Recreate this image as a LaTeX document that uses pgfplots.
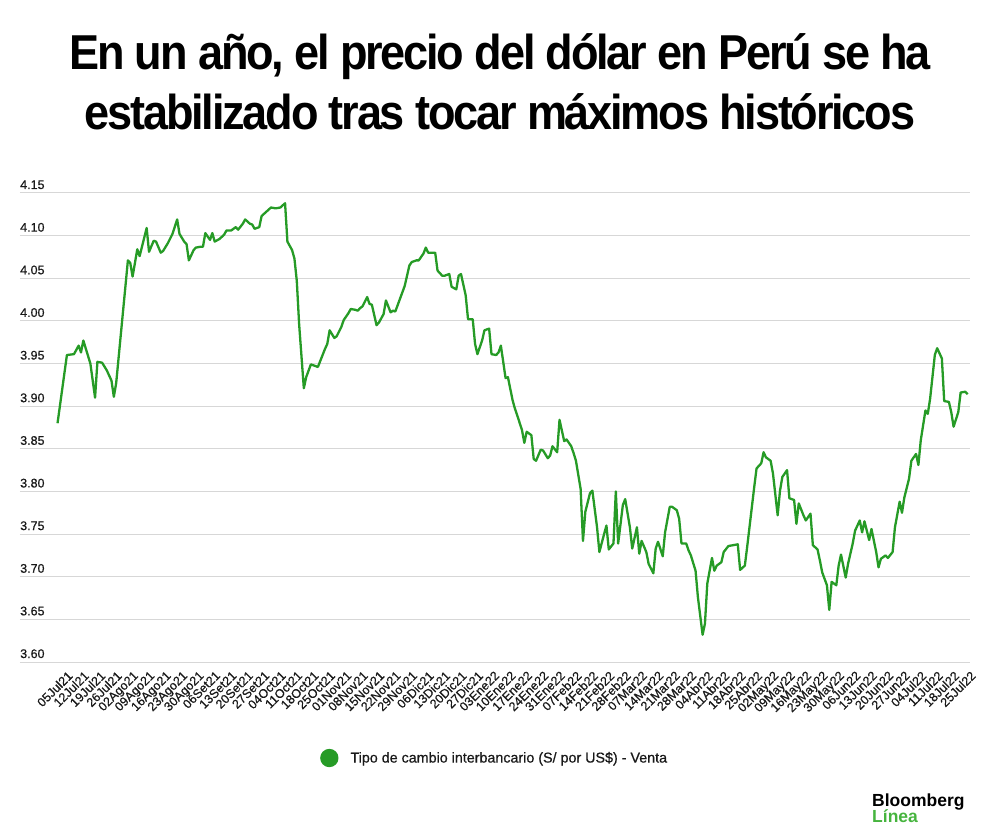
\documentclass[border=0pt]{standalone}
\usepackage{fontspec}
\setmainfont{Liberation Sans}
\newfontfamily\titlefont{Liberation Sans}[FakeStretch=0.92, LetterSpace=-4.5]
\newfontfamily\tickfont{Liberation Sans}[FakeBold=0.6]
\usepackage{pgfplots}
\pgfplotsset{compat=1.18}
\definecolor{lineg}{RGB}{38,155,38}
\definecolor{gridc}{RGB}{215,215,215}
\definecolor{tickc}{RGB}{25,25,25}
\definecolor{lineagreen}{RGB}{70,180,62}
\begin{document}
\begin{tikzpicture}[x=1pt,y=1pt]
\useasboundingbox (0,0) rectangle (1000,838);
\begin{axis}[
  at={(20pt,176pt)}, anchor=south west, scale only axis,
  width=950pt, height=469pt,
  xmin=-20, xmax=385, ymin=3.6, ymax=4.15,
  axis line style={draw=none},
  major tick length=0pt,
  ymajorgrids, grid style={gridc, line width=1pt},
  ytick={3.60,3.65,3.70,3.75,3.80,3.85,3.90,3.95,4.00,4.05,4.10,4.15},
  yticklabels={3.60,3.65,3.70,3.75,3.80,3.85,3.90,3.95,4.00,4.05,4.10,4.15},
  xtick={0,7,...,385},
  xticklabels={05Jul21,12Jul21,19Jul21,26Jul21,02Ago21,09Ago21,16Ago21,23Ago21,30Ago21,06Set21,13Set21,20Set21,27Set21,04Oct21,11Oct21,18Oct21,25Oct21,01Nov21,08Nov21,15Nov21,22Nov21,29Nov21,06Dic21,13Dic21,20Dic21,27Dic21,03Ene22,10Ene22,17Ene22,24Ene22,31Ene22,07Feb22,14Feb22,21Feb22,28Feb22,07Mar22,14Mar22,21Mar22,28Mar22,04Abr22,11Abr22,18Abr22,25Abr22,02May22,09May22,16May22,23May22,30May22,06Jun22,13Jun22,20Jun22,27Jun22,04Jul22,11Jul22,18Jul22,25Jul22},
  /pgf/number format/assume math mode=true,
  tick label style={font=\tickfont\fontsize{12.5}{12.5}\selectfont, text=tickc},
  yticklabel style={anchor=base west, inner sep=0pt, yshift=4pt},
  xticklabel style={anchor=north east, inner sep=0pt, rotate=45},
  xticklabel shift=8pt,
  legend style={at={(axis description cs:0.3158,-0.2047)}, anchor=west,
    draw=none, fill=none, inner sep=0pt, column sep=12pt,
    font=\tickfont\fontsize{14.3}{14.3}\selectfont, text=tickc,
    nodes={inner sep=0pt}},
  legend image code/.code={\fill[lineg] (8pt,0pt) circle (8pt);},
]
\addplot[color=lineg, line width=2.3pt, line join=round] coordinates {
(-4,3.880) (0,3.960) (3,3.961) (5,3.971) (6,3.963) (7,3.977) (10,3.950) (12,3.910)
(13,3.952) (15,3.951) (17,3.942) (19,3.930) (20,3.911) (21,3.927) (26,4.071) (27,4.068)
(28,4.052) (30,4.084) (31,4.076) (33,4.098) (34,4.109) (35,4.081) (37,4.094) (38,4.093)
(40,4.080) (41,4.082) (43,4.091) (45,4.102) (47,4.119) (48,4.102) (50,4.093) (51,4.090)
(52,4.071) (54,4.083) (55,4.086) (57,4.087) (58,4.087) (59,4.103) (61,4.095) (62,4.103)
(63,4.093) (65,4.096) (67,4.101) (68,4.106) (70,4.106) (72,4.110) (73,4.107) (75,4.114)
(76,4.119) (78,4.114) (79,4.113) (80,4.108) (82,4.110) (83,4.123) (85,4.128) (87,4.133)
(89,4.132) (91,4.133) (93,4.138) (94,4.093) (96,4.083) (97,4.073) (98,4.047) (99,3.996)
(101,3.921) (102,3.934) (104,3.949) (105,3.948) (107,3.946) (108,3.953) (110,3.967) (111,3.973)
(112,3.989) (114,3.980) (115,3.982) (117,3.993) (118,4.001) (120,4.009) (121,4.014) (123,4.013)
(124,4.012) (125,4.015) (126,4.017) (128,4.028) (129,4.020) (130,4.019) (132,3.995) (133,3.998)
(135,4.008) (136,4.024) (138,4.010) (139,4.012) (140,4.011) (142,4.026) (144,4.041) (146,4.065)
(147,4.069) (149,4.071) (150,4.071) (152,4.079) (153,4.086) (154,4.080) (156,4.080) (157,4.080)
(158,4.059) (160,4.053) (161,4.053) (163,4.055) (164,4.040) (166,4.037) (167,4.053) (168,4.055)
(170,4.030) (171,4.002) (173,4.002) (174,3.973) (175,3.961) (177,3.977) (178,3.989) (180,3.991)
(181,3.961) (183,3.960) (184,3.963) (185,3.971) (187,3.933) (188,3.934) (190,3.907) (191,3.897)
(192,3.889) (194,3.872) (195,3.857) (196,3.870) (198,3.866) (199,3.838) (200,3.836) (202,3.849)
(203,3.848) (205,3.839) (206,3.842) (207,3.853) (209,3.846) (210,3.884) (212,3.859) (213,3.861)
(215,3.853) (216,3.845) (217,3.836) (219,3.803) (220,3.742) (221,3.776) (223,3.798) (224,3.801)
(226,3.758) (227,3.729) (229,3.750) (230,3.760) (231,3.732) (233,3.739) (234,3.800) (235,3.739)
(237,3.784) (238,3.791) (240,3.758) (241,3.733) (243,3.758) (244,3.727) (245,3.742) (247,3.729)
(248,3.715) (250,3.704) (251,3.733) (252,3.741) (254,3.724) (255,3.752) (257,3.782) (258,3.782)
(260,3.778) (261,3.768) (262,3.739) (264,3.739) (265,3.731) (266,3.725) (268,3.707) (269,3.676)
(271,3.632) (272,3.645) (273,3.692) (275,3.722) (276,3.707) (277,3.713) (279,3.717) (280,3.729)
(282,3.736) (284,3.737) (286,3.738) (287,3.708) (289,3.713) (290,3.735) (291.5,3.770) (293,3.805)
(294,3.827) (296,3.833) (297,3.846) (298,3.840) (300,3.836) (301,3.821) (303,3.772) (304,3.801)
(305,3.817) (307,3.825) (308,3.792) (310,3.790) (311,3.762) (312,3.786) (314,3.772) (315,3.766)
(317,3.774) (318,3.737) (320,3.732) (321,3.719) (322,3.705) (324,3.690) (325,3.661) (326,3.694)
(328,3.690) (329,3.713) (330,3.726) (332,3.699) (333,3.715) (335,3.739) (336,3.754) (338,3.766)
(339,3.752) (340,3.765) (342,3.743) (343,3.756) (345,3.729) (346,3.711) (347,3.721) (349,3.725)
(350,3.722) (352,3.729) (353,3.758) (355,3.788) (356,3.775) (357,3.793) (359,3.815) (360,3.836)
(362,3.844) (363,3.831) (364,3.860) (366,3.895) (367,3.891) (368,3.909) (370,3.960) (371,3.968)
(373,3.956) (374,3.906) (376,3.905) (377,3.893) (378,3.876) (380,3.893) (381,3.916) (383,3.917)
(384,3.914)
};
\addlegendentry{Tipo de cambio interbancario (S/ por US\$) - Venta}
\end{axis}
\node[anchor=base, inner sep=0pt] at (500,768) {\titlefont\bfseries\fontsize{49}{49}\selectfont En un año, el precio del dólar en Perú se ha};
\node[anchor=base, inner sep=0pt] at (500,708) {\titlefont\bfseries\fontsize{49}{49}\selectfont estabilizado tras tocar máximos históricos};
\node[anchor=base west, inner sep=0pt] at (872,32) {\bfseries\fontsize{17.5}{17.5}\selectfont Bloomberg};
\node[anchor=base west, inner sep=0pt, text=lineagreen] at (872,15.3) {\bfseries\fontsize{17.5}{17.5}\selectfont Línea};
\end{tikzpicture}
\end{document}
